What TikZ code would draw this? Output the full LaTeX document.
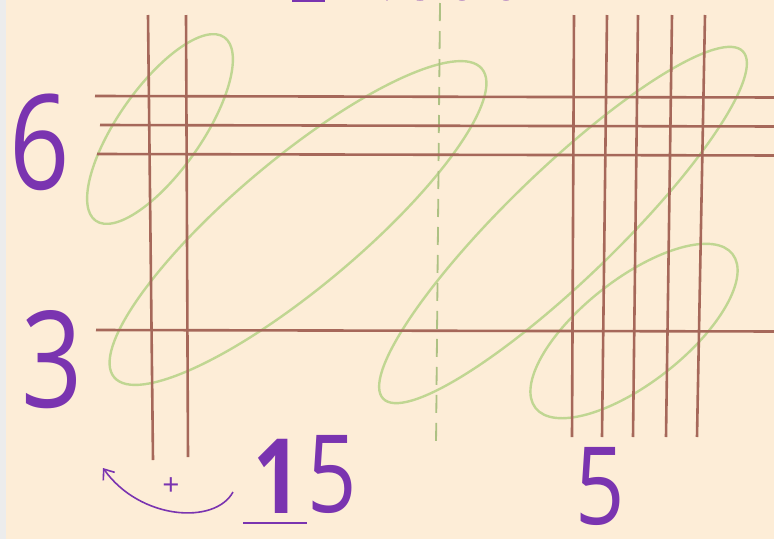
\documentclass[tikz,border=0pt]{standalone}
\usepackage{fontspec}
\usetikzlibrary{arrows.meta}
\newfontfamily\handfont{Open Sans}
\definecolor{paper}{RGB}{253,237,215}
\definecolor{rodbrown}{RGB}{166,104,90}
\definecolor{loopgreen}{RGB}{192,214,146}
\definecolor{penpurple}{RGB}{122,52,176}

\begin{document}
\begin{tikzpicture}[x=1pt,y=-1pt,
        rod/.style={draw=rodbrown,line width=2.6pt},
        loop/.style={draw=loopgreen,line width=2.4pt},
        digit/.style={text=penpurple,inner sep=0pt,xscale=0.8,transform shape,
            font=\handfont\fontsize{#1}{#1}\selectfont},
        digit/.default=130]
        \useasboundingbox (0,0) rectangle (774,539);
        \fill[paper] (0,0) rectangle (774,539);
        \fill[gray!15] (0,0) rectangle (6,539);
        % diagonal groups
        \draw[loop,rotate around={55:(160,129)}] (160,129) ellipse [x radius=112pt,y radius=42pt];
        \draw[loop,rotate around={40:(298,223)}] (298,223) ellipse [x radius=240pt,y radius=64pt];
        \draw[loop,rotate around={44:(563,225)}] (563,225) ellipse [x radius=250pt,y radius=55pt];
        \draw[loop,rotate around={38:(634,331)}] (634,331) ellipse [x radius=125pt,y radius=52pt];
        \draw[loopgreen!90!black,line width=1.8pt,dash pattern=on 18pt off 10pt] (440,3) -- (436,447);
        % the lines
        \foreach \y/\xa in {96/95,125/100,154/97,330/96}
            \draw[rod] (\xa,\y) -- (780,\y+1.5);
        \foreach \xt/\xb/\yb in {148/153/460,186/188/457}
            \draw[rod] (\xt,15) -- (\xb,\yb);
        \foreach \xt/\xb in {574/572,607/602,638/633,672/666,705/697}
            \draw[rod] (\xt,15) -- (\xb,437);
        % digits
        \node[digit=132] (six) at (40,142) {6};
        \node[digit=134] (three) at (52,360) {3};
        \node[digit=104] (one) at (277,476) {\bfseries 1};
        \node[digit=108] (five) at (332,474) {5};
        \node[digit=108] (last) at (600,486) {5};
        \draw[penpurple,line width=2pt] ([xshift=-34pt,yshift=-10pt]one.south) -- ([xshift=30pt,yshift=-10pt]one.south);
        \node[text=penpurple,font=\handfont\fontsize{30}{30}\selectfont] (plus) at (171,487) {+};
        \coordinate (carryfrom) at (233,492);
        \coordinate (carryto) at (103,468);
        \draw[penpurple,line width=1.6pt,-{Straight Barb[length=9pt,width=14pt]}]
            (carryfrom) .. controls (215,525) and (140,520) .. (carryto);
        % cut-off heading
        \fill[penpurple] (292,-3) rectangle (325,1.5);
        \foreach \x/\w in {387/2,420/7,462/6,506/6}
            \fill[penpurple] (\x,-2.5) ellipse [x radius=\w pt,y radius=3pt];
\end{tikzpicture}
\end{document}
